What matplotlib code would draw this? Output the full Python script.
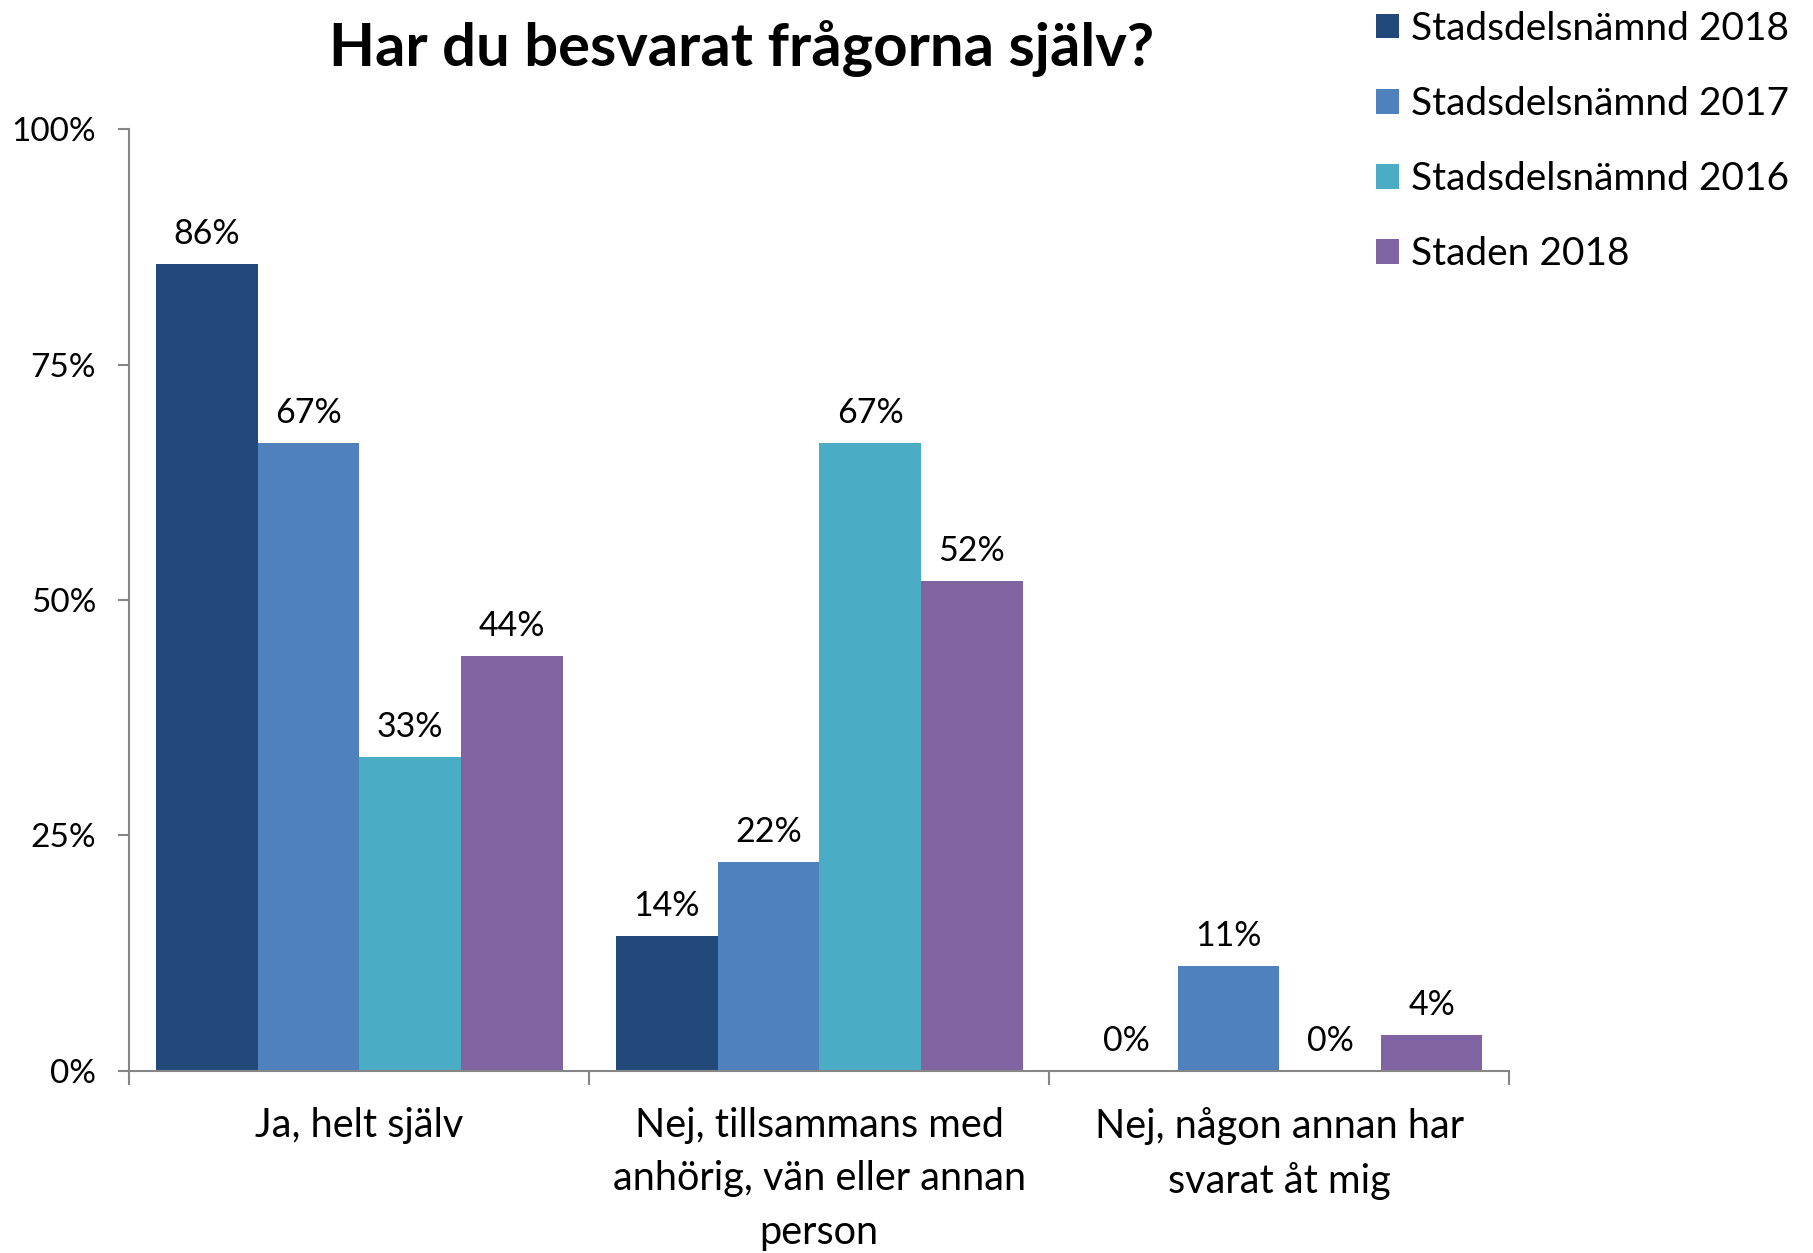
import numpy as np
import matplotlib.pyplot as plt

plt.rcParams['font.family'] = ['Lato', 'DejaVu Sans']

title = "Har du besvarat frågorna själv?"
categories = ["Ja, helt själv",
              "Nej, tillsammans med\nanhörig, vän eller annan\nperson",
              "Nej, någon annan har\nsvarat åt mig"]
series_names = ["Stadsdelsnämnd 2018", "Stadsdelsnämnd 2017",
                "Stadsdelsnämnd 2016", "Staden 2018"]
sdn_2018 = [85.7, 14.3, 0.0]
sdn_2017 = [66.7, 22.2, 11.1]
sdn_2016 = [33.3, 66.7, 0.0]
staden_2018 = [44.1, 52.0, 3.8]
yticks = [0, 25, 50, 75, 100]
ytick_labels = ["0%", "25%", "50%", "75%", "100%"]

colors = ["#214A7B", "#4F81BD", "#4BACC6", "#8064A2"]

fig = plt.figure(figsize=(18.13, 12.53), dpi=100)
ax = fig.add_axes([0.0714, 0.1456, 0.761, 0.7511])

x = np.arange(len(categories))
bar_w = 0.221
all_series = [sdn_2018, sdn_2017, sdn_2016, staden_2018]
handles = []
for i, (vals, name) in enumerate(zip(all_series, series_names)):
    pos = x + (i - 1.5) * bar_w
    b = ax.bar(pos, vals, width=bar_w, color=colors[i], label=name, linewidth=0)
    ax.bar_label(b, labels=[f"{v:.0f}%" for v in vals], padding=10, fontsize=24.5)
    handles.append(b)

ax.set_xlim(-0.5, len(categories) - 0.5)
ax.set_ylim(0, 100)
ax.set_yticks(yticks)
ax.set_yticklabels(ytick_labels)

# category boundaries get the tick marks, centres get the labels
ax.set_xticks(np.arange(len(categories) + 1) - 0.5)
ax.set_xticklabels([])
ax.set_xticks(x, minor=True)
ax.set_xticklabels(categories, minor=True, fontsize=28.5, linespacing=1.55, va='top')
ax.tick_params(axis='x', which='minor', length=0, pad=26)
ax.tick_params(axis='x', which='major', length=10, width=1.5, color='#868686')
ax.tick_params(axis='y', length=8, width=1.5, color='#868686', labelsize=24, pad=16)

for s in ['top', 'right']:
    ax.spines[s].set_visible(False)
for s in ['left', 'bottom']:
    ax.spines[s].set_color('#868686')
    ax.spines[s].set_linewidth(1.5)

fig.text(0.409, 0.961, title, fontsize=43, fontweight='bold', ha='center', va='center')

fig.legend(handles=handles, loc='upper left', bbox_to_anchor=(0.759, 0.9915),
           frameon=False, fontsize=28, handlelength=0.6, handleheight=0.6,
           handletextpad=0.3, labelspacing=1.01, borderpad=0, borderaxespad=0)

fig.savefig("out.png", dpi=100)
